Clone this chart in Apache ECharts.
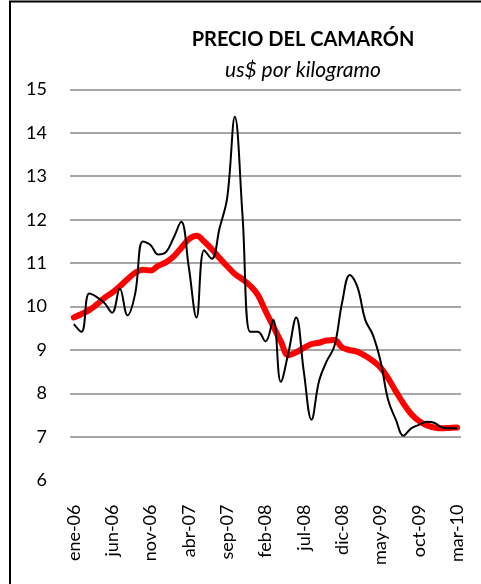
<!DOCTYPE html>
<html>
<head>
<meta charset="utf-8">
<script src="https://cdn.jsdelivr.net/npm/echarts@6/dist/echarts.min.js"></script>
<style>
  html, body { margin: 0; padding: 0; background: #ffffff; }
  #chart { width: 481px; height: 584px; }
</style>
</head>
<body>
<div id="chart"></div>
<script>
// Months from ene-06 to mar-10
const months = [
  'ene-06','feb-06','mar-06','abr-06','may-06','jun-06','jul-06','ago-06','sep-06','oct-06','nov-06','dic-06',
  'ene-07','feb-07','mar-07','abr-07','may-07','jun-07','jul-07','ago-07','sep-07','oct-07','nov-07','dic-07',
  'ene-08','feb-08','mar-08','abr-08','may-08','jun-08','jul-08','ago-08','sep-08','oct-08','nov-08','dic-08',
  'ene-09','feb-09','mar-09','abr-09','may-09','jun-09','jul-09','ago-09','sep-09','oct-09','nov-09','dic-09',
  'ene-10','feb-10','mar-10'
];

// Monthly price, US$ per kg
const precio = [
  9.6, 9.42, 10.3, 10.22, 10.08, 9.86, 10.42, 9.8, 10.3, 11.5, 11.42, 11.2,
  11.25, 11.58, 11.95, 10.9, 9.75, 11.3, 11.1, 11.8, 12.5, 14.37, 12.1, 9.42,
  9.42, 9.2, 9.7, 8.27, 8.95, 9.75, 8.5, 7.4, 8.3, 8.75, 9.1, 10.1,
  10.73, 10.45, 9.7, 9.35, 8.75, 7.85, 7.4, 7.03, 7.2, 7.28, 7.35, 7.33,
  7.22, 7.2, 7.2
];

// Trend line
const tendencia = [
  9.75, 9.83, 9.92, 10.05, 10.2, 10.32, 10.47, 10.63, 10.78, 10.85, 10.83, 10.94,
  11.02, 11.15, 11.35, 11.55, 11.63, 11.5, 11.32, 11.12, 10.93, 10.75, 10.63, 10.48,
  10.27, 9.9, 9.55, 9.2, 8.88, 8.95, 9.05, 9.14, 9.17, 9.22, 9.23, 9.06,
  9.0, 8.96, 8.87, 8.75, 8.6, 8.35, 8.05, 7.77, 7.53, 7.37, 7.27, 7.22,
  7.2, 7.21, 7.22
];

const yTicks = [6, 15, 1]; // min, max, step

const FONT = 'Lato, "Open Sans", sans-serif';
const chart = echarts.init(document.getElementById('chart'), null, { renderer: 'canvas' });

// grid line colours: none on the bottom value, grey above
const gridColors = [];
for (let v = yTicks[0]; v <= yTicks[1]; v += yTicks[2]) {
  gridColors.push(v === yTicks[0] ? 'rgba(0,0,0,0)' : '#898989');
}

chart.setOption({
  backgroundColor: '#ffffff',
  animation: false,
  title: [
    {
      text: 'PRECIO DEL CAMARÓN',
      left: 298, top: 25, textAlign: 'center',
      textStyle: { fontFamily: FONT, fontSize: 20, fontWeight: 'bold', color: '#000' }
    },
    {
      text: 'us$ por kilogramo',
      left: 298, top: 55, textAlign: 'center',
      textStyle: { fontFamily: FONT, fontSize: 21, fontStyle: 'italic', fontWeight: 'normal', color: '#000' }
    }
  ],
  graphic: [{
    type: 'rect',
    shape: { x: 10, y: 1.5, width: 490, height: 600 },
    style: { fill: 'none', stroke: '#000', lineWidth: 2 },
    silent: true, z: 100
  }],
  grid: { left: 70, right: 20, top: 89.3, bottom: 103.5, containLabel: false },
  xAxis: {
    type: 'category',
    data: months,
    boundaryGap: true,
    axisLine: { show: false },
    axisTick: { show: false },
    axisLabel: {
      interval: 4,
      rotate: 90,
      margin: 24,
      fontFamily: FONT, fontSize: 18, color: '#000'
    },
    splitLine: { show: false }
  },
  yAxis: {
    type: 'value',
    min: yTicks[0], max: yTicks[1], interval: yTicks[2],
    axisLine: { show: false },
    axisTick: { show: false },
    axisLabel: { margin: 23, fontFamily: FONT, fontSize: 18, color: '#000' },
    splitLine: { show: true, lineStyle: { color: gridColors, width: 1.5 } }
  },
  series: [
    {
      name: 'tendencia', type: 'line', data: tendencia,
      smooth: 0.4, symbol: 'none',
      lineStyle: { color: '#ff0000', width: 6, cap: 'round', join: 'round' },
      z: 2
    },
    {
      name: 'precio', type: 'line', data: precio,
      smooth: 0.4, symbol: 'none',
      lineStyle: { color: '#000000', width: 2 },
      z: 3
    }
  ]
});
</script>
</body>
</html>
